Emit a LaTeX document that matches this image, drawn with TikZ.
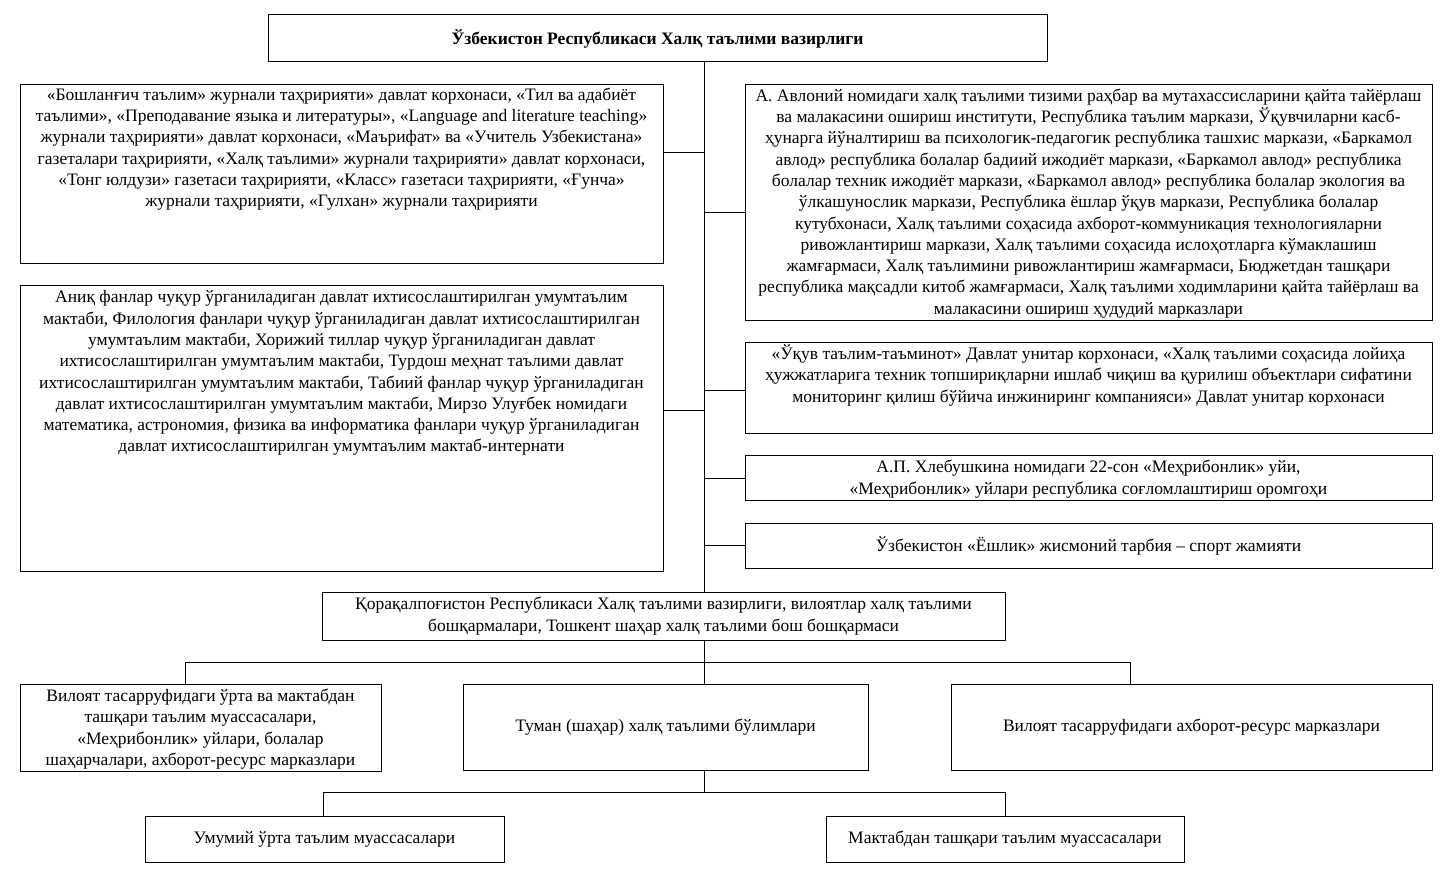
\documentclass[tikz,border=0pt]{standalone}
\usepackage{fontspec}
\setmainfont{Liberation Serif}
\begin{document}
\begin{tikzpicture}[x=1pt,y=-1pt,
  box/.style={draw=black,line width=1pt,fill=white,rectangle,inner sep=0pt},
  txt/.style={align=center,inner sep=0pt,font=\fontsize{17.5}{21.3}\selectfont},
  line/.style={draw=black,line width=0.8pt}]
\useasboundingbox[fill=white] (0,0) rectangle (1447,877);
\newcommand{\bx}[5]{\node[box,minimum width={#4-#2},minimum height={#5-#3}] (#1) at ({(#2+#4)/2},{(#3+#5)/2}) {};}
\coordinate (tx) at (704,0);
% connectors
\draw[line] (tx |- 0,62) coordinate (t0) -- (tx |- 0,792);
\draw[line] (663,152) -- (tx |- 0,152);
\draw[line] (tx |- 0,212) -- (745,212);
\draw[line] (663,410) -- (tx |- 0,410);
\draw[line] (tx |- 0,390) -- (745,390);
\draw[line] (tx |- 0,478) -- (745,478);
\draw[line] (tx |- 0,545) -- (745,545);
\draw[line] (185,684) -- (185,662) -- (1130,662) -- (1130,684);
\draw[line] (323,816) -- (323,792) -- (1005,792) -- (1005,816);
% boxes
\bx{top}{268}{15}{1047}{62}
\bx{L1}{20}{85}{663}{263}
\bx{R1}{745}{85}{1432}{320}
\bx{L2}{20}{285}{663}{571}
\bx{R2}{745}{342}{1432}{433}
\bx{R3}{745}{455}{1432}{500}
\bx{R4}{745}{523}{1432}{568}
\bx{M}{322}{592}{1005}{640}
\bx{B1}{20}{684}{381}{771}
\bx{B2}{463}{684}{868}{770}
\bx{B3}{951}{684}{1432}{770}
\bx{C1}{145}{816}{504}{862}
\bx{C2}{826}{816}{1184}{862}
% texts
\node[txt,font=\fontsize{17.5}{21.3}\selectfont\bfseries] (ttop) at (top) {Ўзбекистон Республикаси Халқ таълими вазирлиги};
\node[txt,anchor=north] (tL1) at ([yshift=-3pt]L1.north) {«Бошланғич таълим» журнали таҳририяти» давлат корхонаси, «Тил ва адабиёт\\
таълими», «Преподавание языка и литературы», «Language and literature teaching»\\
журнали таҳририяти» давлат корхонаси, «Маърифат» ва «Учитель Узбекистана»\\
газеталари таҳририяти, «Халқ таълими» журнали таҳририяти» давлат корхонаси,\\
«Тонг юлдузи» газетаси таҳририяти, «Класс» газетаси таҳририяти, «Ғунча»\\
журнали таҳририяти, «Гулхан» журнали таҳририяти};
\node[txt,anchor=north] (tR1) at ([yshift=-4pt]R1.north) {А. Авлоний номидаги халқ таълими тизими раҳбар ва мутахассисларини қайта тайёрлаш\\
ва малакасини ошириш институти, Республика таълим маркази, Ўқувчиларни касб-\\
ҳунарга йўналтириш ва психологик-педагогик республика ташхис маркази, «Баркамол\\
авлод» республика болалар бадиий ижодиёт маркази, «Баркамол авлод» республика\\
болалар техник ижодиёт маркази, «Баркамол авлод» республика болалар экология ва\\
ўлкашунослик маркази, Республика ёшлар ўқув маркази, Республика болалар\\
кутубхонаси, Халқ таълими соҳасида ахборот-коммуникация технологияларни\\
ривожлантириш маркази, Халқ таълими соҳасида ислоҳотларга кўмаклашиш\\
жамғармаси, Халқ таълимини ривожлантириш жамғармаси, Бюджетдан ташқари\\
республика мақсадли китоб жамғармаси, Халқ таълими ходимларини қайта тайёрлаш ва\\
малакасини ошириш ҳудудий марказлари};
\node[txt,anchor=north] (tL2) at ([yshift=-6pt]L2.north) {Аниқ фанлар чуқур ўрганиладиган давлат ихтисослаштирилган умумтаълим\\
мактаби, Филология фанлари чуқур ўрганиладиган давлат ихтисослаштирилган\\
умумтаълим мактаби, Хорижий тиллар чуқур ўрганиладиган давлат\\
ихтисослаштирилган умумтаълим мактаби, Турдош меҳнат таълими давлат\\
ихтисослаштирилган умумтаълим мактаби, Табиий фанлар чуқур ўрганиладиган\\
давлат ихтисослаштирилган умумтаълим мактаби, Мирзо Улуғбек номидаги\\
математика, астрономия, физика ва информатика фанлари чуқур ўрганиладиган\\
давлат ихтисослаштирилган умумтаълим мактаб-интернати};
\node[txt,anchor=north] (tR2) at ([yshift=-3pt]R2.north) {«Ўқув таълим-таъминот» Давлат унитар корхонаси, «Халқ таълими соҳасида лойиҳа\\
ҳужжатларига техник топшириқларни ишлаб чиқиш ва қурилиш объектлари сифатини\\
мониторинг қилиш бўйича инжиниринг компанияси» Давлат унитар корхонаси};
\node[txt] (tR3) at ([yshift=-1.5pt]R3.center) {А.П. Хлебушкина номидаги 22-сон «Меҳрибонлик» уйи,\\
«Меҳрибонлик» уйлари республика соғломлаштириш оромгоҳи};
\node[txt] (tR4) at (R4) {Ўзбекистон «Ёшлик» жисмоний тарбия – спорт жамияти};
\node[txt] (tM) at (M) {Қорақалпоғистон Республикаси Халқ таълими вазирлиги, вилоятлар халқ таълими\\
бошқармалари, Тошкент шаҳар халқ таълими бош бошқармаси};
\node[txt] (tB1) at ([yshift=-1.5pt]B1.center) {Вилоят тасарруфидаги ўрта ва мактабдан\\
ташқари таълим муассасалари,\\
«Меҳрибонлик» уйлари, болалар\\
шаҳарчалари, ахборот-ресурс марказлари};
\node[txt] (tB2) at (B2) {Туман (шаҳар) халқ таълими бўлимлари};
\node[txt] (tB3) at (B3) {Вилоят тасарруфидаги ахборот-ресурс марказлари};
\node[txt] (tC1) at (C1) {Умумий ўрта таълим муассасалари};
\node[txt] (tC2) at (C2) {Мактабдан ташқари таълим муассасалари};
\end{tikzpicture}
\end{document}
